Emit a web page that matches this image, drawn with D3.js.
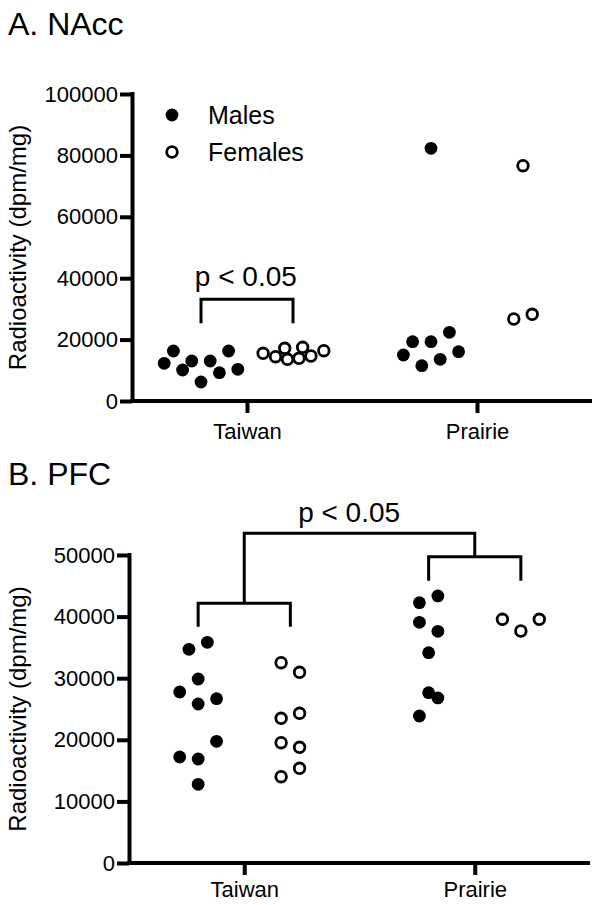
<!DOCTYPE html>
<html>
<head>
<meta charset="utf-8">
<script src="https://cdn.jsdelivr.net/npm/d3@7"></script>
<style>
  html, body { margin: 0; padding: 0; background: #fff; }
  svg { display: block; font-family: "Liberation Sans", Arial, Helvetica, sans-serif; }
</style>
</head>
<body>
<svg id="chart" width="601" height="905"></svg>
<script>
// ---------- data ----------
const categories = ["Taiwan", "Prairie"];
const sexes = ["Males", "Females"];

// Panel A: NAcc (dpm/mg)
const nAccTaiwanMales   = [12280, 16290, 10100, 13030, 6190, 13030, 9220, 16290, 10330];
const nAccTaiwanFemales = [15540, 14430, 17170, 13580, 13910, 17490, 14660, 16380];
const nAccPrairieMales  = [82310, 14980, 19320, 11500, 19320, 13580, 22380, 16060];
const nAccPrairieFemales= [76640, 26710, 28240];
// horizontal scatter slot of each point (in marker widths)
const nAccTaiwanMalesJit   = [-4, -3, -2, -1, 0, 1, 2, 3, 4];
const nAccTaiwanFemalesJit = [-3.25, -1.9, -0.9, -0.6, 0.65, 1.05, 1.95, 3.35];
const nAccPrairieMalesJit  = [0, -3, -2, -1, 0, 1, 2, 3];
const nAccPrairieFemalesJit= [0, -1, 1];
const nAccTicks = [0, 20000, 40000, 60000, 80000, 100000];

// Panel B: PFC (dpm/mg)
const pfcTaiwanMales   = [34690, 35830, 29870, 27760, 25810, 26670, 19760, 17210, 16880, 12780];
const pfcTaiwanFemales = [32520, 30960, 23490, 24300, 19530, 18780, 14010, 15370];
const pfcPrairieMales  = [42260, 43350, 39070, 37610, 34140, 27650, 26790, 23860];
const pfcPrairieFemales= [39560, 37660, 39560];
const pfcTaiwanMalesJit   = [-1, 1, 0, -2, 0, 2, 2, -2, 0, 0];
const pfcTaiwanFemalesJit = [-1, 1, -1, 1, -1, 1, -1, 1];
const pfcPrairieMalesJit  = [-1, 1, -1, 1, 0, 0, 1, -1];
const pfcPrairieFemalesJit= [-2, 0, 2];
const pfcTicks = [0, 10000, 20000, 30000, 40000, 50000];

const yLabel = "Radioactivity (dpm/mg)";
const pText = "p < 0.05";

// ---------- drawing ----------
const svg = d3.select("#chart");
const FONT_TICK = 22;
const AXIS_W = 4;
const SEX_OFFSET = 0.2;     // category units
const SLOT = 0.04;          // category units per marker slot

function groups(tm, tf, pm, pf, tmj, tfj, pmj, pfj) {
  return [
    {cat: 0, sex: 0, vals: tm, jit: tmj},
    {cat: 0, sex: 1, vals: tf, jit: tfj},
    {cat: 1, sex: 0, vals: pm, jit: pmj},
    {cat: 1, sex: 1, vals: pf, jit: pfj}
  ];
}

function panel(cfg) {
  const g = svg.append("g");
  const x = d3.scaleLinear().domain([0.5, 2.5]).range([cfg.left, cfg.right]);
  const y = d3.scaleLinear().domain([0, cfg.max]).range([cfg.bottom, cfg.top]);

  // title
  g.append("text").attr("x", 8).attr("y", cfg.titleY)
    .attr("font-size", 32).attr("fill", "#000").text(cfg.title);

  // y axis
  const ya = g.append("g").attr("transform", `translate(${cfg.left},0)`)
    .call(d3.axisLeft(y).tickValues(cfg.ticks).tickSize(12).tickPadding(2).tickFormat(d3.format("d")));
  ya.select(".domain").attr("stroke", "#000").attr("stroke-width", AXIS_W)
    .attr("d", `M0.5,${cfg.top - 2}V${cfg.bottom + 2}`);
  ya.selectAll(".tick line").attr("stroke", "#000").attr("stroke-width", AXIS_W);
  ya.selectAll(".tick text").attr("font-size", FONT_TICK).attr("fill", "#000")
    .attr("font-family", "Liberation Sans, Arial, sans-serif");

  // x axis
  const xa = g.append("g").attr("transform", `translate(0,${cfg.bottom})`)
    .call(d3.axisBottom(x).tickValues([1, 2]).tickSize(12).tickPadding(cfg.xPad)
      .tickFormat((d) => categories[d - 1]));
  xa.select(".domain").attr("stroke", "#000").attr("stroke-width", AXIS_W)
    .attr("d", `M${cfg.left - 2},0H${cfg.right}`);
  xa.selectAll(".tick line").attr("stroke", "#000").attr("stroke-width", AXIS_W);
  xa.selectAll(".tick text").attr("font-size", FONT_TICK).attr("fill", "#000")
    .attr("font-family", "Liberation Sans, Arial, sans-serif");

  // y label
  g.append("text")
    .attr("transform", `translate(26,${(cfg.top + cfg.bottom) / 2}) rotate(-90)`)
    .attr("text-anchor", "middle").attr("font-size", 24).attr("fill", "#000")
    .text(yLabel);

  // points
  cfg.groups.forEach((grp) => {
    const cx0 = grp.cat + 1 + (grp.sex === 0 ? -SEX_OFFSET : SEX_OFFSET);
    g.selectAll(null).data(grp.vals.map((v, i) => ({v, j: grp.jit[i]})))
      .enter().append("circle")
      .attr("cx", (d) => x(cx0 + d.j * SLOT))
      .attr("cy", (d) => y(d.v))
      .attr("r", grp.sex === 0 ? 6.4 : 5.3)
      .attr("fill", grp.sex === 0 ? "#000" : "#fff")
      .attr("stroke", grp.sex === 0 ? "none" : "#000")
      .attr("stroke-width", 2.8);
  });

  // brackets
  const line = d3.line();
  cfg.brackets.forEach((b) => {
    g.append("path")
      .attr("d", line(b.map((p) => [x(p[0]), y(p[1])])))
      .attr("fill", "none").attr("stroke", "#000").attr("stroke-width", 3);
  });
  g.append("text").attr("x", x(cfg.pAt[0])).attr("y", y(cfg.pAt[1]))
    .attr("text-anchor", "middle").attr("font-size", 28).attr("fill", "#000").text(pText);

  return {x, y, g};
}

// Panel A
const A = panel({
  title: "A. NAcc", titleY: 35,
  left: 132, right: 592, top: 94, bottom: 401, max: 100000,
  ticks: nAccTicks, xPad: 10,
  groups: groups(nAccTaiwanMales, nAccTaiwanFemales, nAccPrairieMales, nAccPrairieFemales,
                 nAccTaiwanMalesJit, nAccTaiwanFemalesJit, nAccPrairieMalesJit, nAccPrairieFemalesJit),
  brackets: [
    [[0.8, 25300], [0.8, 33130], [1.2, 33130], [1.2, 25300]]
  ],
  pAt: [0.995, 37500]
});

// legend (panel A)
const leg = A.g.append("g");
sexes.forEach((s, i) => {
  const yy = 115 + i * 37;
  leg.append("circle").attr("cx", 172).attr("cy", yy)
    .attr("r", i === 0 ? 6.4 : 5.3)
    .attr("fill", i === 0 ? "#000" : "#fff")
    .attr("stroke", i === 0 ? "none" : "#000").attr("stroke-width", 2.8);
  leg.append("text").attr("x", 208).attr("y", yy + 9)
    .attr("font-size", 25).attr("fill", "#000").text(s);
});

// Panel B
panel({
  title: "B. PFC", titleY: 485,
  left: 129, right: 590, top: 555, bottom: 863, max: 50000,
  ticks: pfcTicks, xPad: 6,
  groups: groups(pfcTaiwanMales, pfcTaiwanFemales, pfcPrairieMales, pfcPrairieFemales,
                 pfcTaiwanMalesJit, pfcTaiwanFemalesJit, pfcPrairieMalesJit, pfcPrairieFemalesJit),
  brackets: [
    [[0.8, 38360], [0.8, 42160], [1.2, 42160], [1.2, 38360]],
    [[1.8, 45830], [1.8, 49720], [2.2, 49720], [2.2, 45830]],
    [[1.0, 42160], [1.0, 53520], [2.0, 53520], [2.0, 49720]]
  ],
  pAt: [1.455, 55350]
});
</script>
</body>
</html>
